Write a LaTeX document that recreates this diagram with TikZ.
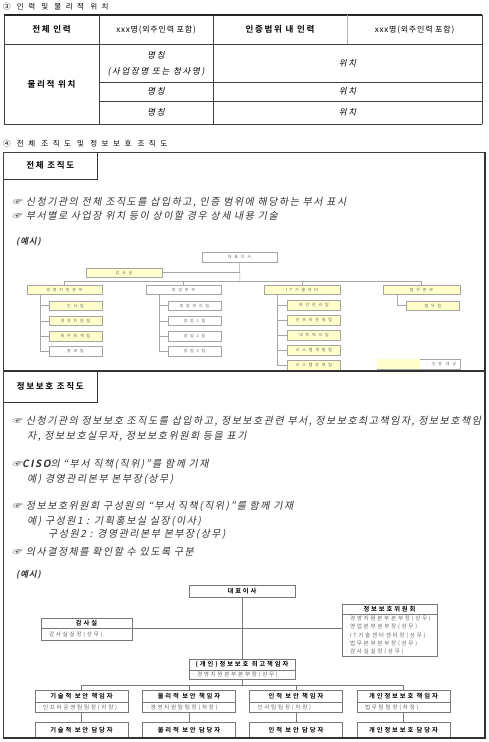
\documentclass[tikz,border=0pt]{standalone}
\usepackage{fontspec}
\setmainfont{Noto Sans CJK KR}[
  BoldFont={Noto Sans CJK KR Bold},
  ItalicFont={Noto Sans CJK KR},
  ItalicFeatures={FakeSlant=0.2},
  BoldItalicFont={Noto Sans CJK KR Bold},
  BoldItalicFeatures={FakeSlant=0.2}]
\usetikzlibrary{positioning}
\definecolor{inscope}{RGB}{255,255,204}
\definecolor{orgline}{RGB}{165,165,165}
\definecolor{boxline}{RGB}{120,120,120}
\newcommand{\krfs}[3]{\fontsize{#1}{#2}\selectfont\addfontfeature{LetterSpace=#3}}

\begin{document}
\begin{tikzpicture}[x=1pt,y=-1pt,
  heading/.style={anchor=west,inner sep=0pt,font=\krfs{7.5}{8}{60}},
  cell/.style={inner sep=0pt,align=center,font=\krfs{8}{10}{10}},
  cellb/.style={inner sep=0pt,align=center,font=\krfs{8.5}{10}{20}\bfseries},
  celli/.style={inner sep=0pt,align=center,font=\krfs{8.5}{16}{20}\itshape},
  tab/.style={draw=black!80,anchor=north west,minimum width=94pt,inner sep=0pt,font=\krfs{8.5}{10}{20}\bfseries},
  note/.style={anchor=west,inner sep=0pt,text=black!80,font=\krfs{10}{11}{15}\itshape},
  org/.style={draw=orgline,minimum height=9.5pt,inner sep=0pt,text=black!60,font=\krfs{4}{5}{70}},
  hq/.style={org,minimum width=75pt},
  team/.style={org,minimum width=53pt},
  link/.style={draw=orgline,line width=0.5pt},
  ttl/.style={draw=boxline,fill=white,inner sep=0pt,font=\krfs{6.3}{7}{30}\bfseries},
  lst/.style={draw=boxline,inner xsep=3pt,inner ysep=0pt,align=left,text=black!60,font=\krfs{5.6}{8.4}{30}},
  wire/.style={draw=boxline,line width=0.5pt}]
\useasboundingbox (0,0) rectangle (489,742);

% (3) staff and locations
\node[heading] (h3) at (3,7) {③ 인력 및 물리적 위치};
\draw[black!85,line width=1.1pt] (4,15) -- (482,15);
\draw[black!75,line width=0.6pt] (4,15) -- (4,124) (482,15) -- (482,124) (4,44) -- (482,44) (4,124) -- (482,124);
\draw[black!75,line width=0.6pt] (99,15) -- (99,124) (213,15) -- (213,124);
\draw[black!30] (347,15) -- (347,44);
\draw[black!75] (99,82) -- (482,82) (99,101) -- (482,101);
\node[cellb] (tot) at (51.5,29.5) {전체 인력};
\node[cell] (totn) at (156,29.5) {xxx명(외주인력 포함)};
\node[cellb] (scope) at (280,29.5) {인증범위 내 인력};
\node[cell] (scopen) at (414.5,29.5) {xxx명(외주인력 포함)};
\node[cellb] (loc) at (51.5,84) {물리적 위치};
\node[celli] (site1) at (156,63.5) {명칭\\(사업장명 또는 청사명)};
\node[celli] (addr1) at (347.5,63) {위치};
\node[celli] (site2) at (156,91.5) {명칭};
\node[celli] (addr2) at (347.5,91.5) {위치};
\node[celli] (site3) at (156,112.5) {명칭};
\node[celli] (addr3) at (347.5,112.5) {위치};

% (4) org charts
\node[heading] (h4) at (3,144) {④ 전체 조직도 및 정보보호 조직도};
\node[tab,minimum height=27pt] (tab1) at (3,152) {전체 조직도};
\draw[black!80,line width=1pt] (tab1.north east) -- (tab1.south east) -- (tab1.south west);
\node[note] (n1) at (12,202) {☞ 신청기관의 전체 조직도를 삽입하고, 인증 범위에 해당하는 부서 표시};
\node[note] (n2) at (12,216) {☞ 부서별로 사업장 위치 등이 상이할 경우 상세 내용 기술};
\node[note,font=\krfs{8.5}{10}{10}\bfseries\itshape] (ex1) at (16,242) {(예시)};

% whole organisation
\node[org,minimum width=75pt,minimum height=10pt] (ceo1) at (239.5,257) {대표이사};
\node[hq,fill=inscope,minimum width=76pt] (audit1) at (124,272.5) {감사실};
\node[hq,fill=inscope] (mgmt) at (64.5,289.5) {경영지원본부};
\node[hq] (sales) at (183.5,289.5) {영업본부};
\node[hq,fill=inscope,minimum width=76pt] (itc) at (302,289.5) {IT기술센터};
\node[hq,fill=inscope,minimum width=77pt] (legal) at (421.5,289.5) {법무본부};
\node[team,fill=inscope] (hr) at (75.5,305.5) {인사팀};
\node[team,fill=inscope] (ms) at (75.5,320.8) {경영지원팀};
\node[team,fill=inscope] (fin) at (75.5,336.1) {재무회계팀};
\node[team] (pr) at (75.5,351.4) {홍보팀};
\node[team] (sm) at (194.5,305.5) {영업관리팀};
\node[team] (s1) at (194.5,320.8) {영업1팀};
\node[team] (s2) at (194.5,336.1) {영업2팀};
\node[team] (s3) at (194.5,351.4) {영업3팀};
\node[team,fill=inscope] (sec) at (314,305.2) {보안관리팀};
\node[team,fill=inscope] (infra) at (314,320.2) {인프라운영팀};
\node[team,fill=inscope] (net) at (314,335.2) {네트워크팀};
\node[team,fill=inscope] (dev) at (314,350.2) {시스템개발팀};
\node[team,fill=inscope] (ops) at (314,365.2) {시스템운영팀};
\node[team,fill=inscope] (lt) at (433,305.5) {법무팀};
\coordinate (bus1) at (240,281);
\draw[link] (ceo1.south) -- (bus1);
\draw[link] (audit1.east) -- (audit1.east -| ceo1.south);
\draw[link] (mgmt.north) -- (mgmt.north |- bus1) -- (legal.north |- bus1) -- (legal.north);
\draw[link] (sales.north) -- (sales.north |- bus1) (itc.north) -- (itc.north |- bus1);
\draw[link] (mgmt.south west) ++(13,0) |- (hr.west) (mgmt.south west) ++(13,0) |- (ms.west)
  (mgmt.south west) ++(13,0) |- (fin.west) (mgmt.south west) ++(13,0) |- (pr.west);
\draw[link] (sales.south west) ++(13,0) |- (sm.west) (sales.south west) ++(13,0) |- (s1.west)
  (sales.south west) ++(13,0) |- (s2.west) (sales.south west) ++(13,0) |- (s3.west);
\draw[link] (itc.south west) ++(13,0) |- (sec.west) (itc.south west) ++(13,0) |- (infra.west)
  (itc.south west) ++(13,0) |- (net.west) (itc.south west) ++(13,0) |- (dev.west)
  (itc.south west) ++(13,0) |- (ops.west);
\draw[link] (legal.south west) ++(14,0) |- (lt.west);
\node[org,minimum width=83pt,minimum height=10pt] (key) at (418.5,364) {};
\fill[inscope] ([shift={(0.3,0.3)}]key.north west) rectangle ([xshift=43pt,yshift=0.3pt]key.south west);
\node[org,draw=none] (keytxt) at (441,364) {: 인증 대상};

% security organisation
\node[tab,minimum height=31pt] (tab2) at (3,371) {정보보호 조직도};
\draw[black!80,line width=1pt] (tab2.north east) -- (tab2.south east) -- (tab2.south west);
\node[note] (m1) at (12,421) {☞ 신청기관의 정보보호 조직도를 삽입하고, 정보보호관련 부서, 정보보호최고책임자, 정보보호책임};
\node[note] (m1b) at (27,436) {자, 정보보호실무자, 정보보호위원회 등을 표기};
\node[note] (m2) at (12,464) {☞{\bfseries CISO}의 “부서 직책(직위)”를 함께 기재};
\node[note] (m2b) at (27,479) {예) 경영관리본부 본부장(상무)};
\node[note] (m3) at (12,506) {☞ 정보보호위원회 구성원의 “부서 직책(직위)”를 함께 기재};
\node[note] (m3b) at (27,521) {예) 구성원1 : 기획홍보실 실장(이사)};
\node[note] (m3c) at (48,534) {구성원2 : 경영관리본부 본부장(상무)};
\node[note] (m4) at (12,552) {☞ 의사결정체를 확인할 수 있도록 구분};
\node[note,font=\krfs{8.5}{10}{10}\bfseries\itshape] (ex2) at (16,575) {(예시)};

\node[ttl,minimum width=106pt,minimum height=12pt] (ceo2) at (242,591) {대표이사};
\node[ttl,minimum width=95pt,minimum height=10pt] (com) at (389.5,609) {정보보호위원회};
\node[lst,text width=89pt,minimum height=42pt,below=0pt of com] (coml) {· 경영지원본부 본부장(상무)\\· 영업본부 본부장(상무)\\· IT기술센터 센터장(상무)\\· 법무본부 본부장(상무)\\· 감사실 실장(상무)};
\node[ttl,minimum width=91pt,minimum height=10pt] (aud2) at (86.5,623) {감사실};
\node[lst,text width=85pt,minimum height=12pt,below=0pt of aud2] (aud2l) {· 감사실 실장(상무)};
\node[ttl,minimum width=106pt,minimum height=11pt] (ciso) at (242,664.5) {(개인)정보보호 최고책임자};
\node[lst,text width=100pt,minimum height=9pt,below=0pt of ciso] (cisol) {· 경영지원본부 본부장(상무)};
\node[ttl,minimum width=93pt,minimum height=12pt] (tech) at (81.5,696) {기술적 보안 책임자};
\node[ttl,minimum width=93pt,minimum height=12pt] (phys) at (189,696) {물리적 보안 책임자};
\node[ttl,minimum width=93pt,minimum height=12pt] (hum) at (296,696) {인적 보안 책임자};
\node[ttl,minimum width=93pt,minimum height=12pt] (priv) at (403.5,696) {개인정보보호 책임자};
\node[lst,text width=87pt,minimum height=10pt,below=0pt of tech] (techl) {· 인프라운영팀 팀장(차장)};
\node[lst,text width=87pt,minimum height=10pt,below=0pt of phys] (physl) {· 경영지원팀 팀장(차장)};
\node[lst,text width=87pt,minimum height=10pt,below=0pt of hum] (huml) {· 인사팀 팀장(차장)};
\node[lst,text width=87pt,minimum height=10pt,below=0pt of priv] (privl) {· 법무팀 팀장(차장)};
\node[ttl,minimum width=93pt,minimum height=15pt,anchor=north] (techw) at (81.5,722) {기술적 보안 담당자};
\node[ttl,minimum width=93pt,minimum height=15pt,anchor=north] (physw) at (189,722) {물리적 보안 담당자};
\node[ttl,minimum width=93pt,minimum height=15pt,anchor=north] (humw) at (296,722) {인적 보안 담당자};
\node[ttl,minimum width=93pt,minimum height=15pt,anchor=north] (privw) at (403.5,722) {개인정보보호 담당자};
\coordinate (bus2) at (242,685);
\draw[wire] (ceo2.south) -- (ciso.north);
\draw[wire] (aud2l.north east) -- (aud2l.north east -| coml.west);
\draw[wire] (cisol.south) -- (bus2);
\draw[wire] (tech.north) -- (tech.north |- bus2) -- (priv.north |- bus2) -- (priv.north);
\draw[wire] (phys.north) -- (phys.north |- bus2) (hum.north) -- (hum.north |- bus2);
\draw[wire] (techl.south) -- (techw.north) (physl.south) -- (physw.north)
  (huml.south) -- (humw.north) (privl.south) -- (privw.north);

% frame
\draw[black!75,line width=0.5pt] (3,152) rectangle (485,738);
\draw[black!80,line width=1.3pt] (485,152) -- (485,738) -- (3,738);
\draw[black!80,line width=1.4pt] (3,371) -- (485,371);
\end{tikzpicture}
\end{document}
